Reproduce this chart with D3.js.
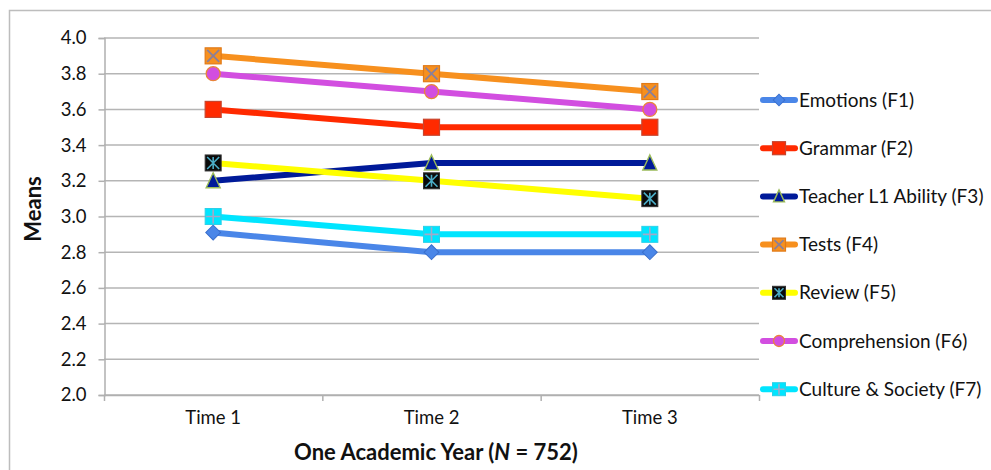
<!DOCTYPE html>
<html><head><meta charset="utf-8">
<script src="https://cdn.jsdelivr.net/npm/d3@7"></script>
<style>
html,body{margin:0;padding:0;background:#fff;}
text{font-family:Lato,"Open Sans",sans-serif;fill:#111;}
</style></head>
<body><svg id="c" width="991" height="470"></svg>
<script>
const categories = ["Time 1","Time 2","Time 3"];
const seriesNames = ["Emotions (F1)","Grammar (F2)","Teacher L1 Ability (F3)","Tests (F4)","Review (F5)","Comprehension (F6)","Culture & Society (F7)"];
const emotions = [2.91, 2.80, 2.80];
const grammar = [3.60, 3.50, 3.50];
const teacherL1 = [3.20, 3.30, 3.30];
const tests = [3.90, 3.80, 3.70];
const review = [3.30, 3.20, 3.10];
const comprehension = [3.80, 3.70, 3.60];
const culture = [3.00, 2.90, 2.90];
const yTicks = [2.0,2.2,2.4,2.6,2.8,3.0,3.2,3.4,3.6,3.8,4.0];

const seriesValues = [emotions, grammar, teacherL1, tests, review, comprehension, culture];
const lineColors = ["#4a86e8","#ff2a00","#001a99","#f7901e","#ffff00","#d24ee0","#00e5ff"];
const markerTypes = ["diamond","square","triangle","squareX","star","circle","squarePlus"];

const svg = d3.select("#c");
// outer border
svg.append("rect").attr("x",9.5).attr("y",10.5).attr("width",990).attr("height",470)
  .attr("fill","none").attr("stroke","#bdbdbd").attr("stroke-width",1.5);

const x = d3.scaleBand().domain(categories).range([104,759]);
const y = d3.scaleLinear().domain([2,4]).range([395,38]);

// gridlines
svg.append("g").selectAll("line").data(yTicks).join("line")
  .attr("x1",104).attr("x2",759).attr("y1",d=>y(d)).attr("y2",d=>y(d))
  .attr("stroke","#b5b5b5").attr("stroke-width",1.5);

// y axis
const ya = svg.append("g").attr("transform","translate(104.5,0)")
  .call(d3.axisLeft(y).tickValues(yTicks).tickFormat(d3.format(".1f")).tickSize(6).tickPadding(12));
ya.select(".domain").attr("stroke","#b0b0b0").attr("stroke-width",1.5);
ya.selectAll(".tick line").attr("stroke","#b0b0b0").attr("stroke-width",1.5);
ya.selectAll("text").style("font-size","18.5px").attr("fill","#111");

// x axis
const xa = svg.append("g").attr("transform","translate(0,395)")
  .call(d3.axisBottom(x).tickSize(0).tickPadding(16));
xa.select(".domain").attr("stroke","#b0b0b0").attr("stroke-width",1.5);
xa.selectAll("text").style("font-size","18.5px").attr("fill","#111");
const bounds = [104].concat(categories.map(c=>x(c)+x.bandwidth()));
svg.append("g").selectAll("line").data(bounds).join("line")
  .attr("x1",d=>d+0.5).attr("x2",d=>d+0.5).attr("y1",395).attr("y2",401)
  .attr("stroke","#b0b0b0").attr("stroke-width",1.5);

// axis titles
svg.append("text").attr("x",436).attr("y",460).attr("text-anchor","middle")
  .style("font-size","22px").style("font-weight","bold").html('One Academic Year (<tspan font-style="italic">N</tspan> = 752)');
svg.append("text").attr("transform","translate(41,209) rotate(-90)").attr("text-anchor","middle")
  .style("font-size","22px").style("font-weight","bold").text("Means");

function drawMarker(g, type, s){
  const h = s/2;
  if(type==="diamond"){
    g.append("rect").attr("x",-h*0.75).attr("y",-h*0.75).attr("width",s*0.75).attr("height",s*0.75)
      .attr("transform","rotate(45)").attr("fill","#4a86e8").attr("stroke","#3a6fcc").attr("stroke-width",1);
  } else if(type==="square"){
    g.append("rect").attr("x",-h).attr("y",-h).attr("width",s).attr("height",s)
      .attr("fill","#ff2a00").attr("stroke","#c8442c").attr("stroke-width",1.2);
  } else if(type==="triangle"){
    g.append("path").attr("d",`M0,${-h-1}L${h},${h}L${-h},${h}Z`)
      .attr("fill","#001a99").attr("stroke","#9bbb59").attr("stroke-width",1.4);
  } else if(type==="squareX"){
    g.append("rect").attr("x",-h).attr("y",-h).attr("width",s).attr("height",s)
      .attr("fill","#f7901e").attr("stroke","#e07a18").attr("stroke-width",1.2);
    g.append("path").attr("d",`M${-h+2},${-h+2}L${h-2},${h-2}M${h-2},${-h+2}L${-h+2},${h-2}`)
      .attr("stroke","#8a7f9a").attr("stroke-width",1.8);
  } else if(type==="star"){
    g.append("rect").attr("x",-h).attr("y",-h).attr("width",s).attr("height",s)
      .attr("fill","#0a0a0a").attr("stroke","#333").attr("stroke-width",1);
    g.append("path").attr("d",`M${-h+2},${-h+2}L${h-2},${h-2}M${h-2},${-h+2}L${-h+2},${h-2}M0,${-h+2}L0,${h-2}`)
      .attr("stroke","#4bacc6").attr("stroke-width",1.6);
  } else if(type==="circle"){
    g.append("circle").attr("r",h-0.5).attr("fill","#d24ee0").attr("stroke","#e8853a").attr("stroke-width",1.3);
  } else if(type==="squarePlus"){
    g.append("rect").attr("x",-h).attr("y",-h).attr("width",s).attr("height",s)
      .attr("fill","#00e5ff").attr("stroke","#2cd0e8").attr("stroke-width",1);
    g.append("path").attr("d",`M0,${-h+1}L0,${h-1}M${-h+1},0L${h-1},0`)
      .attr("stroke","#a4a8c8").attr("stroke-width",1.6);
  }
}
const markerSize = [14,16,14,16,16,15,16];

const line = d3.line().x((d,i)=>x(categories[i])+x.bandwidth()/2).y(d=>y(d));
seriesValues.forEach((vals,si)=>{
  const g = svg.append("g");
  g.append("path").datum(vals).attr("d",line).attr("fill","none")
    .attr("stroke",lineColors[si]).attr("stroke-width",6).attr("stroke-linejoin","round").attr("stroke-linecap","round");
  vals.forEach((v,i)=>{
    const m = g.append("g").attr("transform",`translate(${x(categories[i])+x.bandwidth()/2},${y(v)})`);
    drawMarker(m, markerTypes[si], markerSize[si]);
  });
});

// legend
const legY0 = 100, legDy = 48.2;
seriesNames.forEach((name,si)=>{
  const ly = legY0 + si*legDy;
  const g = svg.append("g").attr("transform",`translate(0,${ly})`);
  g.append("line").attr("x1",763).attr("x2",795).attr("y1",0).attr("y2",0)
    .attr("stroke",lineColors[si]).attr("stroke-width",6).attr("stroke-linecap","round");
  const m = g.append("g").attr("transform","translate(779,0)");
  drawMarker(m, markerTypes[si], markerSize[si]-3);
  g.append("text").attr("x",799).attr("y",0).attr("dy","0.35em").style("font-size","19px").text(name);
});
</script></body></html>
